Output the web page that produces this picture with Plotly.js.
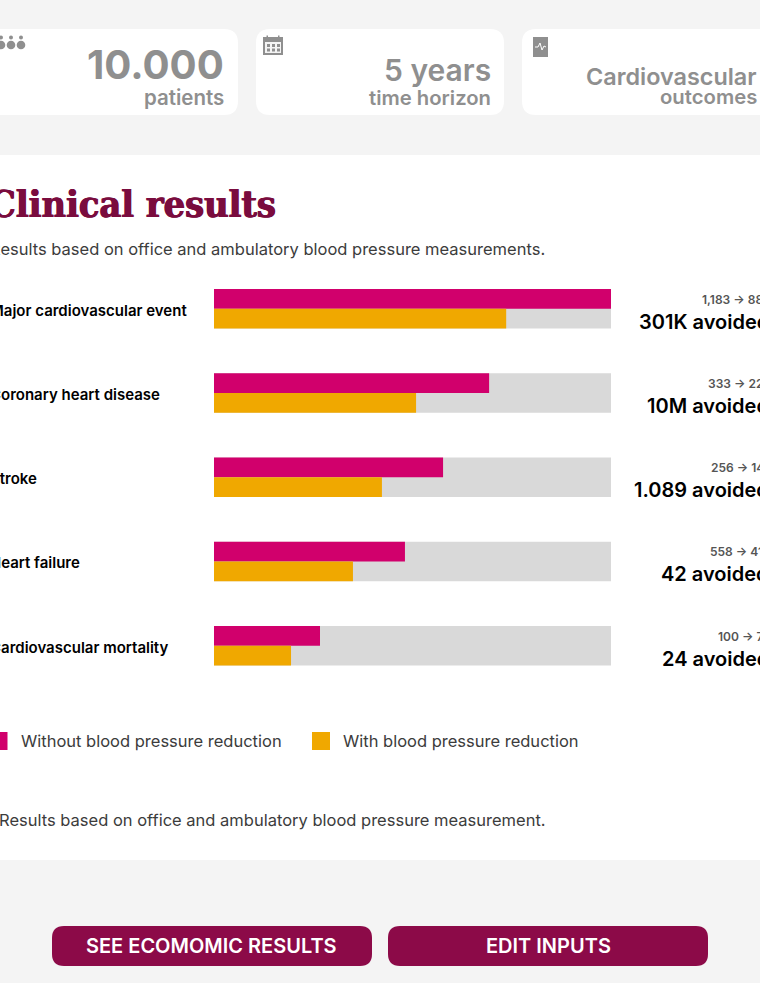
<!DOCTYPE html>
<html><head><meta charset="utf-8">
<script src="https://cdn.plot.ly/plotly-3.0.1.min.js"></script>
<style>html,body{margin:0;padding:0;background:#f4f4f4;overflow:hidden}#c{width:760px;height:983px}</style>
</head><body><div id="c"></div>
<script>
const categories = ["Major cardiovascular event","Coronary heart disease","Stroke","Heart failure","Cardiovascular mortality"];
const withoutReduction = [100, 69.3, 57.7, 48.1, 26.7];
const withReduction = [73.6, 50.9, 42.3, 35.0, 19.4];
const fullScale = [100, 100, 100, 100, 100];
const rateLabels = ["1,183 → 882","333 → 223","256 → 147","558 → 416","100 → 76"];
const avoidedLabels = ["301K avoided","10M avoided","1.089 avoided","42 avoided","24 avoided"];
const seriesNames = ["Without blood pressure reduction","With blood pressure reduction"];

const W=760,H=983;
const X=x=>x/W, Y=y=>1-y/H;
const rowY=i=>308.7+84.25*i;
function rr(x0,y0,x1,y1,r,fill){
  const p=`M${X(x0+r)},${Y(y0)} L${X(x1-r)},${Y(y0)} Q${X(x1)},${Y(y0)} ${X(x1)},${Y(y0+r)} L${X(x1)},${Y(y1-r)} Q${X(x1)},${Y(y1)} ${X(x1-r)},${Y(y1)} L${X(x0+r)},${Y(y1)} Q${X(x0)},${Y(y1)} ${X(x0)},${Y(y1-r)} L${X(x0)},${Y(y0+r)} Q${X(x0)},${Y(y0)} ${X(x0+r)},${Y(y0)} Z`;
  return {type:'path',xref:'paper',yref:'paper',path:p,fillcolor:fill,line:{width:0},layer:'below'};
}
const rect=(x0,y0,x1,y1,fill)=>({type:'rect',xref:'paper',yref:'paper',x0:X(x0),x1:X(x1),y0:Y(y1),y1:Y(y0),fillcolor:fill,line:{width:0},layer:'below'});
const circ=(cx,cy,r,fill)=>({type:'circle',xref:'paper',yref:'paper',x0:X(cx-r),x1:X(cx+r),y0:Y(cy+r),y1:Y(cy-r),fillcolor:fill,line:{width:0},layer:'below'});
const G='#8f8f8f';
const shapes=[
  rr(-40,29,238,115,14,'#fff'), rr(256,29,504,115,14,'#fff'), rr(522,29,800,115,14,'#fff'),
  rect(-5,155,765,860,'#fff'),
  rr(52,926,372,966,12,'#8c0a48'), rr(388,926,708,966,12,'#8c0a48'),
  rect(-8,732,7.5,750,'#d1006c'), rect(312,732,330,750,'#f0a800')
];
[1,11,21].forEach(cx=>{
  shapes.push(circ(cx,37.5,2,G)); shapes.push(circ(cx,45,4.3,G));
});
shapes.push(rect(263,37,283,55,G)); shapes.push(rect(265,42,281,53,'#f4f4f4'));
shapes.push(rect(266.5,35.5,268,39,G)); shapes.push(rect(278,35.5,279.5,39,G));
[267,272,277].forEach(x=>{[44,48.5].forEach(y=>shapes.push(rect(x,y,x+3,y+3,G)));});
shapes.push(rect(533,37,548,57,G));
shapes.push({type:'path',xref:'paper',yref:'paper',layer:'below',line:{color:'#fff',width:1},
  path:`M${X(535)},${Y(47)} L${X(538)},${Y(47)} L${X(540)},${Y(43)} L${X(542)},${Y(50)} L${X(544)},${Y(46)} L${X(546)},${Y(47)}`});

function T(x,y,text,size,color,weight,anchor,family,shadow){
  const font={family:family||'Inter',size,color,weight:weight||400};
  if(shadow) font.shadow=shadow;
  return {xref:'paper',yref:'paper',x:X(x),y:Y(y),text,showarrow:false,xanchor:anchor||'left',yanchor:'middle',
    font,align:anchor||'left',borderpad:0,borderwidth:0};
}
const ink='#3c3c3c';
const titleInk='#7a0c3e';
const annotations=[
  T(224,65,'10.000',40.2,G,700,'right'),
  T(224,97,'patients',20.5,G,600,'right'),
  T(491,70,'5 years',30,G,600,'right'),
  T(491,97,'time horizon',20.3,G,600,'right'),
  T(757,76.5,'Cardiovascular',23.4,G,600,'right'),
  T(757,96.5,'outcomes',20.3,G,600,'right'),
  T(-11,204,'Clinical results',37.5,titleInk,700,'left','DejaVu Serif Condensed',`0.6px 0 0 ${titleInk}, -0.6px 0 0 ${titleInk}`),
  T(-10,249,'Results based on office and ambulatory blood pressure measurements.',16.5,ink,400),
  T(21,741,seriesNames[0],16.5,ink,400),
  T(343,741,seriesNames[1],16.5,ink,400),
  T(-1,820,'Results based on office and ambulatory blood pressure measurement.',16.5,ink,400),
  T(211.5,946,'SEE ECOMOMIC RESULTS',20,'#fff',600,'center'),
  T(548,946,'EDIT INPUTS',20,'#fff',600,'center')
];
categories.forEach((c,i)=>{
  annotations.push(T(-10.5,rowY(i)+1.5,c,15,'#000',600));
  annotations.push(T(771,rowY(i)-9.5,rateLabels[i],12,'#555',600,'right'));
  annotations.push(T(768.5,rowY(i)+13,avoidedLabels[i],20,'#000',600,'right'));
});
const bw=0.234;
const traces=[
  {type:'bar',orientation:'h',name:'Scale',y:categories,x:fullScale,width:2*bw,offset:-bw,marker:{color:'#d9d9d9'},showlegend:false,hoverinfo:'skip'},
  {type:'bar',orientation:'h',name:seriesNames[0],y:categories,x:withoutReduction,width:bw,offset:-bw,marker:{color:'#d1006c'},showlegend:false},
  {type:'bar',orientation:'h',name:seriesNames[1],y:categories,x:withReduction,width:bw,offset:0,marker:{color:'#f0a800'},showlegend:false}
];
const plotTop=rowY(0)-42.125, plotBot=rowY(4)+42.125;
const layout={
  width:W,height:H,margin:{l:0,r:0,t:0,b:0,pad:0},autosize:false,
  paper_bgcolor:'#f4f4f4',plot_bgcolor:'rgba(0,0,0,0)',barmode:'overlay',showlegend:false,
  xaxis:{domain:[214/W,611/W],range:[0,100],visible:false,fixedrange:true},
  yaxis:{domain:[1-plotBot/H,1-plotTop/H],type:'category',categoryorder:'array',categoryarray:categories,range:[4.5,-0.5],visible:false,fixedrange:true},
  shapes,annotations
};
Plotly.newPlot('c',traces,layout,{displayModeBar:false,staticPlot:true});
</script></body></html>
